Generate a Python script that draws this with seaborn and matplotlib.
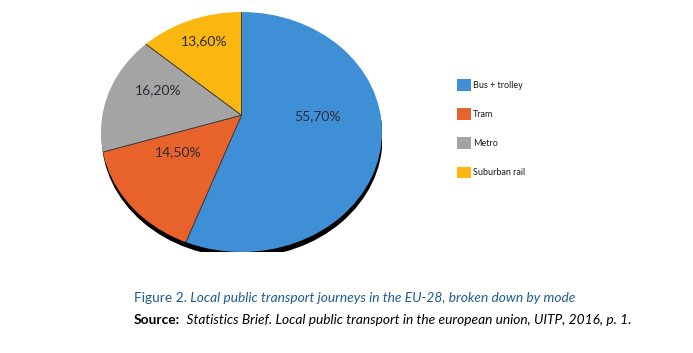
import matplotlib
matplotlib.use("Agg")
import matplotlib.pyplot as plt
import matplotlib.transforms as mtransforms
import seaborn as sns
import numpy as np
from matplotlib.patches import Ellipse, Patch

# data
modes = ["Bus + trolley", "Tram", "Metro", "Suburban rail"]
shares = [55.7, 14.5, 16.2, 13.6]
colors = ["#3f8fd6", "#e8632b", "#a4a4a4", "#fbb70f"]

sns.set_theme(style="white")
plt.rcParams["font.family"] = ["Lato", "DejaVu Sans"]

fig = plt.figure(figsize=(6.93, 3.53), dpi=100)
fig.patch.set_facecolor("white")

# pie axes spans the ellipse of the tilted pie
ax = fig.add_axes([101 / 693, 1 - 252 / 353, 281 / 693, 240 / 353])

# apex of the pie sits above the ellipse centre (perspective), wedges clipped to ellipse
apex = (0.0, 0.14)
R = 1.7
wedges, texts, autotexts = ax.pie(
    shares, colors=colors, startangle=90, counterclock=False,
    center=apex, radius=R,
    autopct=lambda p: f"{p:.2f}%".replace(".", ","),
    pctdistance=0.34,
    wedgeprops=dict(edgecolor="#3a3a3a", linewidth=0.6),
    textprops=dict(fontsize=10, color="#2b2b35"),
)
ax.set_aspect("auto")
ax.set_xlim(-1, 1)
ax.set_ylim(-1, 1)
ax.axis("off")

# shadow under the pie
shadow = Ellipse((0.005, -0.045), 2.0, 2.0, facecolor="black", edgecolor="none", zorder=0)
ax.add_patch(shadow)

clip = Ellipse((0, 0), 2.0, 2.0, transform=ax.transData, facecolor="none", edgecolor="none")
ax.add_patch(clip)
for w in wedges:
    w.set_clip_on(True)
    w.set_clip_path(clip)
    w.set_zorder(1)
# labels sit a little higher (perspective)
lift = mtransforms.offset_copy(ax.transData, fig=fig, x=-3, y=8, units="points")
for t in autotexts:
    t.set_transform(lift)
    t.set_zorder(3)

# legend
handles = [Patch(facecolor=c, edgecolor="none") for c in colors]
fig.legend(
    handles, modes, loc="upper left", bbox_to_anchor=(457 / 693, 1 - 79 / 353),
    frameon=False, fontsize=6.5, handlelength=1.6, handleheight=1.6,
    handletextpad=0.2, labelspacing=1.95, borderaxespad=0, borderpad=0,
    labelcolor="#1a1a1a",
)

# caption
fig.canvas.draw()
renderer = fig.canvas.get_renderer()
blue = "#1f5c8f"

def two_part(x, y, a, b, ca, cb, wa, fs=9.9):
    t1 = fig.text(x, y, a, color=ca, fontsize=fs, fontweight=wa, va="center", ha="left")
    bb = t1.get_window_extent(renderer=renderer)
    x2 = bb.x1 / fig.bbox.width
    fig.text(x2, y, b, color=cb, fontsize=fs, style="italic", va="center", ha="left")

two_part(134 / 693, 1 - 298 / 353, "Figure 2.",
         " Local public transport journeys in the EU-28, broken down by mode",
         blue, blue, "normal")
two_part(134 / 693, 1 - 320 / 353, "Source:",
         "  Statistics Brief. Local public transport in the european union, UITP, 2016, p. 1.",
         "black", "black", "bold")

fig.savefig("out.png", dpi=100, facecolor="white")
